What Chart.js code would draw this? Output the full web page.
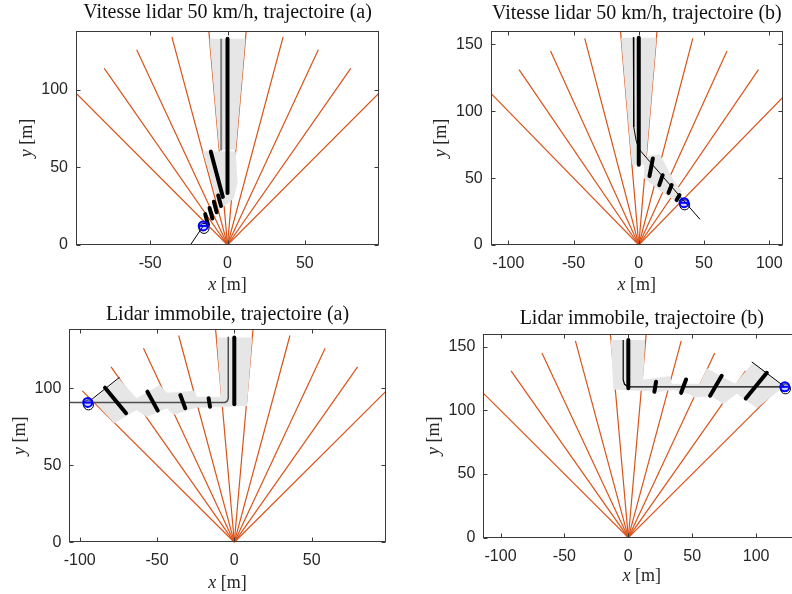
<!DOCTYPE html>
<html>
<head>
<meta charset="utf-8">
<script src="https://cdn.jsdelivr.net/npm/chart.js@4.4.1/dist/chart.umd.min.js"></script>
<style>
  body { margin: 0; background: #fff; }
  #fig { position: relative; width: 792px; height: 594px; overflow: hidden; }
  #fig canvas { position: absolute; }
</style>
</head>
<body>
<div id="fig">
  <canvas id="c1" width="396" height="297" style="left:0;top:0"></canvas>
  <canvas id="c2" width="396" height="297" style="left:396px;top:0"></canvas>
  <canvas id="c3" width="396" height="297" style="left:0;top:297px"></canvas>
  <canvas id="c4" width="420" height="297" style="left:396px;top:297px"></canvas>
</div>
<script>
// lidar beams, degrees from the y axis
const rayAngles = [-45, -35, -25, -15, -5, 5, 15, 25, 35, 45];
const rayRangeA = 139;
const rayRangeB = 160;

const xTicksA = [-50, 0, 50];
const yTicksA = [0, 50, 100];
const xTicksB = [-100, -50, 0, 50, 100];
const yTicksB = [0, 50, 100, 150];
const xTicksC = [-100, -50, 0, 50];

// moving lidar, trajectory (a)
const movA_zones = [
  [[-5.4, 61.5], [-11.6, 133], [11.6, 133], [5.4, 61.5]],
  [[-16.2, 60.5], [5.3, 60.5], [6.5, 40], [4, 30], [-2, 25], [-6, 27]]
];
const movA_track = [[-24, 0], [-15.7, 12.3]];
const movA_ghost = [[-4.1, 61], [-4.1, 133]];
const movA_hits = [
  [0, 33.5, 0, 133],
  [-10.8, 60.2, -3, 31],
  [-12.6, 13.1, -14.4, 19.9],
  [-9.8, 17.1, -11.6, 23.9],
  [-7.0, 21.1, -8.8, 27.9],
  [-4.2, 25.1, -6.0, 31.9]
];
const movA_target = [-15.7, 12.3];

// moving lidar, trajectory (b)
const movB_zones = [
  [[-5.3, 60], [-13.6, 155], [13.6, 155], [5.3, 60]],
  [[4, 66], [16, 68], [27, 48], [33, 40], [28, 33], [20, 38], [4, 50]]
];
const movB_track = [[-4.2, 155.4], [-4, 95], [-3.7, 88.3], [-2, 78], [0, 72.5], [2, 69.6], [46.9, 19.2]];
const movB_hits = [
  [0, 60, 0, 155],
  [10.8, 64.7, 8.2, 51.5],
  [18.3, 52.2, 15.7, 44.8],
  [25.2, 44.8, 22.8, 39],
  [31.2, 37.3, 29, 33.6]
];
const movB_target = [34.7, 31.6];

// static lidar, trajectory (a)
const fixA_zones = [
  [[-91.6, 92.4], [-74.5, 106.2], [-63.1, 93.5], [-48.1, 102.1], [-43.7, 97.1], [-25.4, 98.4],
   [-24.3, 94.5], [-8.6, 94.5], [-11.4, 132.9], [11.6, 132.9], [8.2, 88.5], [-15.7, 87.6],
   [-24.3, 87.6], [-39.4, 82.7], [-43.7, 87], [-56.7, 81.2], [-63.1, 85.9], [-77.6, 77.3]]
];
const fixA_track = [[-107, 90.8], [-6, 90.8], [-4.6, 91.6], [-3.9, 93.5], [-3.9, 133.5]];
const fixA_heading = [[-92.7, 92.4], [-74.2, 107.1]];
const fixA_hits = [
  [0, 89.6, 0, 132.9],
  [-83.6, 100.4, -70, 83.8],
  [-56.2, 97.8, -49.5, 85.5],
  [-34.9, 95.6, -31.7, 87],
  [-16.6, 93.5, -15.7, 88]
];
const fixA_target = [-94.8, 90.8];

// static lidar, trajectory (b)
const fixB_zones = [
  [[-13.8, 155.2], [13.1, 155.2], [11.7, 124], [32.7, 127], [34, 121], [56, 121], [61.4, 133],
   [83.6, 121], [97.9, 138.1], [120.1, 119.9], [120.1, 117.3], [100.5, 101.6], [84.9, 113.3],
   [74.4, 104.9], [65.3, 111.2], [50.9, 110.2], [48.3, 112.5], [35.2, 116], [24.8, 114.6], [-11.7, 116.5]]
];
const fixB_track = [[-4, 155.2], [-4, 124], [-3, 120.5], [0, 118.5], [122.7, 118.5]];
const fixB_heading = [[122.5, 118.5], [96.6, 138.1]];
const fixB_hits = [
  [0, 155.2, 0, 117.3],
  [21.7, 122.5, 20.4, 114.6],
  [45.2, 124.3, 41.3, 113.8],
  [73.1, 127.2, 64, 111.5],
  [108.4, 129.5, 91.9, 109.4]
];
const fixB_target = [122.5, 118.5];

const ORANGE = '#D95319';
const ZONE = '#e6e6e6';
const TEXT = '#262626';

const toPts = list => list.map(([x, y]) => ({x, y}));

function buildDatasets(p) {
  const ds = [];
  const [tx, ty] = p.target;
  // target marker: black outline slightly below the blue car symbol
  ds.push({data: [{x: tx, y: ty}], showLine: false, order: 0, pointStyle: 'line', pointRadius: 4,
    pointBorderColor: '#0000ff', pointBorderWidth: 2});
  ds.push({data: [{x: tx, y: ty}], showLine: false, order: 0, pointStyle: 'circle', pointRadius: 4.5,
    pointBorderColor: '#0000ff', pointBackgroundColor: 'rgba(0,0,255,0.2)', pointBorderWidth: 2});
  ds.push({data: [{x: tx + 0.5, y: ty - 1.6}], showLine: false, order: 0, pointStyle: 'circle', pointRadius: 5,
    pointBorderColor: '#000', pointBackgroundColor: 'rgba(0,0,0,0)', pointBorderWidth: 1});
  p.hits.forEach(([x1, y1, x2, y2]) => ds.push({
    data: [{x: x1, y: y1}, {x: x2, y: y2}], order: 1, borderColor: '#000', borderWidth: 4,
    borderCapStyle: 'round', pointRadius: 0
  }));
  p.lines.forEach(l => ds.push({
    data: toPts(l.pts), order: 2, borderColor: l.color, borderWidth: l.width, pointRadius: 0
  }));
  p.zones.forEach(z => ds.push({
    data: toPts(z), order: 3, fill: 'shape', clip: false, backgroundColor: ZONE,
    borderColor: 'rgba(0,0,0,0)', borderWidth: 0, pointRadius: 0
  }));
  rayAngles.forEach(a => {
    const t = a * Math.PI / 180;
    ds.push({
      data: [{x: 0, y: 0}, {x: p.range * Math.sin(t), y: p.range * Math.cos(t)}],
      order: 4, borderColor: ORANGE, borderWidth: 1.2, pointRadius: 0
    });
  });
  return ds;
}

// draws the closed box, inward tick marks and the axis labels
const frame = {
  id: 'frame',
  afterDraw(chart, args, opts) {
    const {ctx, chartArea: a, scales: {x, y}} = chart;
    const L = Math.round(a.left) + 0.5, R = Math.round(a.right) - 0.5;
    const T = Math.round(a.top) + 0.5, B = Math.round(a.bottom) - 0.5;
    ctx.save();
    ctx.strokeStyle = '#3a3a3a';
    ctx.lineWidth = 1;
    ctx.strokeRect(L, T, R - L, B - T);
    ctx.beginPath();
    x.ticks.forEach(t => {
      const px = Math.round(x.getPixelForValue(t.value)) + 0.5;
      ctx.moveTo(px, B); ctx.lineTo(px, B - 4);
      ctx.moveTo(px, T); ctx.lineTo(px, T + 4);
    });
    y.ticks.forEach(t => {
      const py = Math.round(y.getPixelForValue(t.value)) + 0.5;
      ctx.moveTo(L, py); ctx.lineTo(L + 4, py);
      ctx.moveTo(R, py); ctx.lineTo(R - 4, py);
    });
    ctx.stroke();
    ctx.fillStyle = TEXT;
    mathLabel(ctx, 'x', '[m]', (a.left + a.right) / 2, a.bottom + opts.xLab, false);
    mathLabel(ctx, 'y', '[m]', a.left - opts.yLab, (a.top + a.bottom) / 2, true);
    ctx.restore();
  }
};

function mathLabel(ctx, v, unit, cx, cy, rotate) {
  const italic = 'italic 18px "Liberation Serif"';
  const upright = '18px "Liberation Serif"';
  ctx.save();
  ctx.translate(cx, cy);
  if (rotate) ctx.rotate(-Math.PI / 2);
  ctx.textBaseline = 'middle';
  ctx.textAlign = 'left';
  ctx.font = italic;
  const w1 = ctx.measureText(v).width;
  ctx.font = upright;
  const w2 = ctx.measureText(' ' + unit).width;
  const x0 = -(w1 + w2) / 2;
  ctx.font = italic;
  ctx.fillText(v, x0, 0);
  ctx.font = upright;
  ctx.fillText(' ' + unit, x0 + w1, 0);
  ctx.restore();
}

const panels = [
  {id: 'c1', title: 'Vitesse lidar 50 km/h, trajectoire (a)', xMin: -98, xMax: 98, yMax: 138,
   xTicks: xTicksA, yTicks: yTicksA, range: rayRangeA, zones: movA_zones, hits: movA_hits, target: movA_target,
   lines: [{pts: movA_track, color: '#000', width: 1}, {pts: movA_ghost, color: '#808080', width: 2}],
   box: {yw: 76, xh: 52, right: 17, tTop: 1, tBot: 6, xLab: 40.5, yLab: 49}},
  {id: 'c2', title: 'Vitesse lidar 50 km/h, trajectoire (b)', xMin: -113.5, xMax: 110.5, yMax: 160,
   xTicks: xTicksB, yTicks: yTicksB, range: rayRangeB, zones: movB_zones, hits: movB_hits, target: movB_target,
   lines: [{pts: movB_track, color: '#000', width: 1}],
   box: {yw: 94.7, xh: 52, right: 2, tTop: 1.3, tBot: 5.7, xLab: 40, yLab: 49}},
  {id: 'c3', title: 'Lidar immobile, trajectoire (a)', xMin: -106.7, xMax: 97.9, yMax: 138.3,
   xTicks: xTicksC, yTicks: yTicksA, range: rayRangeA, zones: fixA_zones, hits: fixA_hits, target: fixA_target,
   lines: [{pts: fixA_track, color: '#4d4d4d', width: 1.5}, {pts: fixA_heading, color: '#000', width: 1}],
   box: {yw: 69.3, xh: 51.7, right: 10.3, tTop: 6, tBot: 2.3, xLab: 41, yLab: 49}},
  {id: 'c4', title: 'Lidar immobile, trajectoire (b)', xMin: -113.5, xMax: 134.6, yMax: 160,
   xTicks: xTicksB, yTicks: yTicksB, range: rayRangeB, zones: fixB_zones, hits: fixB_hits, target: fixB_target,
   lines: [{pts: fixB_track, color: '#000', width: 1.2}, {pts: fixB_heading, color: '#000', width: 1}],
   box: {yw: 87.3, xh: 56.3, right: 15.7, tTop: 9.3, tBot: 3.7, xLab: 39, yLab: 49}}
];

Chart.defaults.font.family = '"Liberation Sans", Arial, sans-serif';

panels.forEach(p => {
  const tickFont = {family: '"Liberation Sans"', size: 16};
  new Chart(document.getElementById(p.id), {
    type: 'line',
    data: {datasets: buildDatasets(p)},
    options: {
      responsive: false,
      animation: false,
      events: [],
      layout: {padding: {left: 0, right: p.box.right, top: 0, bottom: 0}},
      plugins: {
        legend: {display: false},
        tooltip: {enabled: false},
        title: {
          display: true, text: p.title, fullSize: false, color: '#111',
          font: {family: '"Liberation Serif"', size: 20, weight: 'normal'},
          padding: {top: p.box.tTop, bottom: p.box.tBot}
        },
        frame: {xLab: p.box.xLab, yLab: p.box.yLab}
      },
      scales: {
        x: {
          type: 'linear', min: p.xMin, max: p.xMax,
          afterBuildTicks: s => { s.ticks = p.xTicks.map(v => ({value: v})); },
          afterFit: s => { s.height = p.box.xh; },
          grid: {display: false, drawTicks: false},
          border: {display: false},
          ticks: {color: TEXT, font: tickFont, padding: 9, maxRotation: 0}
        },
        y: {
          type: 'linear', min: 0, max: p.yMax,
          afterBuildTicks: s => { s.ticks = p.yTicks.map(v => ({value: v})); },
          afterFit: s => { s.width = p.box.yw; },
          grid: {display: false, drawTicks: false},
          border: {display: false},
          ticks: {color: TEXT, font: tickFont, padding: 8}
        }
      }
    },
    plugins: [frame]
  });
});
</script>
</body>
</html>
